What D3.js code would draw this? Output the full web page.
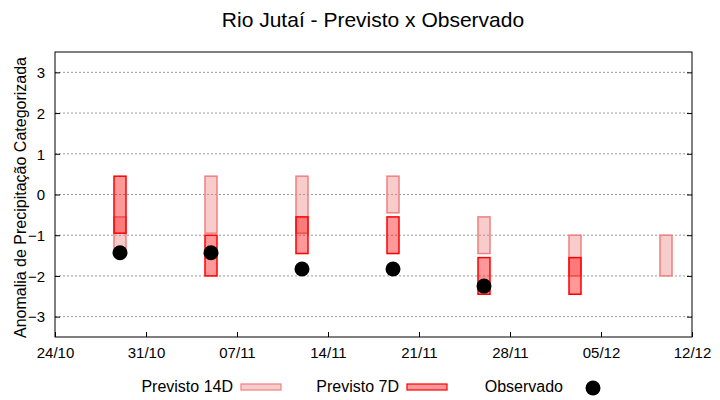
<!DOCTYPE html>
<html>
<head>
<meta charset="utf-8">
<script src="https://cdn.jsdelivr.net/npm/d3@7"></script>
<style>
  body { margin: 0; background: #fff; }
  text { font-family: "Liberation Sans", Arial, sans-serif; }
</style>
</head>
<body>
<div id="chart"></div>
<script>
// Data
const dates = ["2024-10-29", "2024-11-05", "2024-11-12", "2024-11-19", "2024-11-26", "2024-12-03", "2024-12-10"];
const prev14Top = [-0.55, 0.45, 0.45, 0.45, -0.55, -1.0, -1.0];
const prev14Bottom = [-1.45, -0.95, -0.95, -0.45, -1.45, -2.0, -2.0];
const prev7Top = [0.45, -1.0, -0.55, -0.55, -1.55, -1.55, null];
const prev7Bottom = [-0.95, -2.0, -1.45, -1.45, -2.45, -2.45, null];
const observed = [-1.43, -1.43, -1.83, -1.83, -2.25, null, null];
const yTicks = [-3, -2, -1, 0, 1, 2, 3];
const xTickDates = ["2024-10-24", "2024-10-31", "2024-11-07", "2024-11-14", "2024-11-21", "2024-11-28", "2024-12-05", "2024-12-12"];

const parse = d3.timeParse("%Y-%m-%d");
const W = 720, H = 400;
const margin = { top: 52, right: 28, bottom: 63, left: 55 };
const width = W - margin.left - margin.right;
const height = H - margin.top - margin.bottom;

const svg = d3.select("#chart").append("svg")
    .attr("width", W)
    .attr("height", H);

svg.append("text")
    .attr("x", 373)
    .attr("y", 27)
    .attr("text-anchor", "middle")
    .style("font-size", "21px")
    .style("fill", "#000")
    .text("Rio Jutaí - Previsto x Observado");

const g = svg.append("g")
    .attr("transform", `translate(${margin.left},${margin.top})`);

const x = d3.scaleTime()
    .domain([parse(xTickDates[0]), parse(xTickDates[xTickDates.length - 1])])
    .range([0, width]);
const y = d3.scaleLinear()
    .domain([-3.5, 3.5])
    .range([height, 0]);

// grid
g.selectAll(".grid")
    .data(yTicks)
    .enter()
    .append("line")
    .attr("x1", 0)
    .attr("x2", width)
    .attr("y1", d => y(d))
    .attr("y2", d => y(d))
    .style("stroke", "#999")
    .style("stroke-dasharray", "2,2")
    .style("stroke-width", 1);

// axes
const xAxis = g.append("g")
    .attr("transform", `translate(0,${height})`)
    .call(d3.axisBottom(x).tickValues(xTickDates.map(parse)).tickFormat(d3.timeFormat("%d/%m")).tickSizeInner(-5).tickSizeOuter(0).tickPadding(10));
const yAxis = g.append("g")
    .call(d3.axisLeft(y).tickValues(yTicks).tickFormat(d3.format("d")).tickSizeInner(-5).tickSizeOuter(0).tickPadding(10));
const yAxisR = g.append("g")
    .attr("transform", `translate(${width},0)`)
    .call(d3.axisRight(y).tickValues(yTicks).tickFormat("").tickSizeInner(-5).tickSizeOuter(0));

[xAxis, yAxis, yAxisR].forEach(a => {
    a.select(".domain").remove();
    a.selectAll("line").style("stroke", "#000");
    a.selectAll("text")
        .style("font-size", "15px")
        .style("fill", "#000")
        .style("font-family", "'Liberation Sans', Arial, sans-serif");
});
yAxis.selectAll("text").attr("dy", "0.35em");

// frame
g.append("rect")
    .attr("width", width)
    .attr("height", height)
    .style("fill", "none")
    .style("stroke", "#000")
    .style("stroke-width", 1);

svg.append("text")
    .attr("transform", `translate(26,${margin.top + height / 2 + 3}) rotate(-90)`)
    .attr("text-anchor", "middle")
    .style("font-size", "16px")
    .style("fill", "#000")
    .text("Anomalia de Precipitação Categorizada");

const barW = 12;

// previsto 14D
g.selectAll(".p14")
    .data(dates.map((d, i) => ({ d: parse(d), top: prev14Top[i], bot: prev14Bottom[i] })).filter(d => d.top !== null))
    .enter()
    .append("rect")
    .attr("x", d => x(d.d) - barW / 2)
    .attr("y", d => y(d.top))
    .attr("width", barW)
    .attr("height", d => y(d.bot) - y(d.top))
    .style("fill", "#f08080")
    .style("fill-opacity", 0.4)
    .style("stroke", "#f08080")
    .style("stroke-width", 1.5);

// previsto 7D
g.selectAll(".p7")
    .data(dates.map((d, i) => ({ d: parse(d), top: prev7Top[i], bot: prev7Bottom[i] })).filter(d => d.top !== null))
    .enter()
    .append("rect")
    .attr("x", d => x(d.d) - barW / 2)
    .attr("y", d => y(d.top))
    .attr("width", barW)
    .attr("height", d => y(d.bot) - y(d.top))
    .style("fill", "#ff0000")
    .style("fill-opacity", 0.4)
    .style("stroke", "#ff0000")
    .style("stroke-width", 1.5);

// observado
g.selectAll(".obs")
    .data(dates.map((d, i) => ({ d: parse(d), v: observed[i] })).filter(d => d.v !== null))
    .enter()
    .append("circle")
    .attr("cx", d => x(d.d))
    .attr("cy", d => y(d.v))
    .attr("r", 7.5)
    .style("fill", "#000");

// legend
const legend = svg.append("g").attr("transform", "translate(0,386)");
const legItems = [
    { label: "Previsto 14D", tx: 233, sx: 241, type: "rect", fill: "#f08080", stroke: "#f08080" },
    { label: "Previsto 7D", tx: 399, sx: 407, type: "rect", fill: "#ff0000", stroke: "#ff0000" },
    { label: "Observado", tx: 563, sx: 593, type: "dot" }
];
legItems.forEach(it => {
    legend.append("text")
        .attr("x", it.tx)
        .attr("y", 0)
        .attr("dy", "0.35em")
        .attr("text-anchor", "end")
        .style("font-size", "16px")
        .style("fill", "#000")
        .text(it.label);
    if (it.type === "rect") {
        legend.append("rect")
            .attr("x", it.sx)
            .attr("y", -2)
            .attr("width", 40)
            .attr("height", 6)
            .style("fill", it.fill)
            .style("fill-opacity", 0.4)
            .style("stroke", it.stroke)
            .style("stroke-width", 1.2);
    } else {
        legend.append("circle")
            .attr("cx", it.sx)
            .attr("cy", 2)
            .attr("r", 7.5)
            .style("fill", "#000");
    }
});
</script>
</body>
</html>
